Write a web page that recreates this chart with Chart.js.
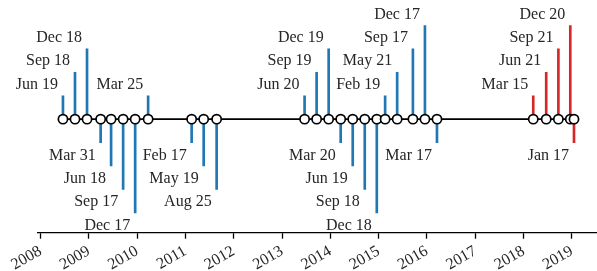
<!DOCTYPE html>
<html>
<head>
<meta charset="utf-8">
<script src="https://cdn.jsdelivr.net/npm/chart.js@4/dist/chart.umd.min.js"></script>
<style>
  html, body { margin: 0; padding: 0; background: #fff; }
  #wrap { width: 597px; height: 271px; }
</style>
</head>
<body>
<div id="wrap"><canvas id="timeline"></canvas></div>
<script>
// release dates, their labels and stem levels (+ above, - below the line)
const releaseDates = [
  '2008-06-19', '2008-09-18', '2008-12-18', '2009-03-31', '2009-06-18', '2009-09-17',
  '2009-12-17', '2010-03-25', '2011-02-17', '2011-05-19', '2011-08-25',
  '2013-06-20', '2013-09-19', '2013-12-19', '2014-03-20', '2014-06-19', '2014-09-18',
  '2014-12-18', '2015-02-19', '2015-05-21', '2015-09-17', '2015-12-17', '2016-03-17',
  '2018-03-15', '2018-06-21', '2018-09-21', '2018-12-20', '2019-01-17'
]
const releaseNames = [
  'Jun 19', 'Sep 18', 'Dec 18', 'Mar 31', 'Jun 18', 'Sep 17',
  'Dec 17', 'Mar 25', 'Feb 17', 'May 19', 'Aug 25',
  'Jun 20', 'Sep 19', 'Dec 19', 'Mar 20', 'Jun 19', 'Sep 18',
  'Dec 18', 'Feb 19', 'May 21', 'Sep 17', 'Dec 17', 'Mar 17',
  'Mar 15', 'Jun 21', 'Sep 21', 'Dec 20', 'Jan 17'
]
const levels = [
  1, 2, 3, -1, -2, -3,
  -4, 1, -1, -2, -3,
  1, 2, 3, -1, -2, -3,
  -4, 1, 2, 3, 4, -1,
  1, 2, 3, 4, -1
]
const years = [2008, 2009, 2010, 2011, 2012, 2013, 2014, 2015, 2016, 2017, 2018, 2019]
const xStart = '2007-12-08'
const xEnd = '2019-07-10'

function dayNum(s) {
  return Date.parse(s + 'T00:00:00Z') / 86400000
}
const stemColor = d => d >= '2018' ? '#d62728' : '#1f77b4'
const font = "'Liberation Serif', 'DejaVu Serif', serif"
const xs = releaseDates.map(dayNum)

const stemLabels = {
  id: 'stemLabels',
  afterDatasetsDraw(chart) {
    const ctx = chart.ctx
    const x = chart.scales.x
    const y = chart.scales.y
    ctx.save()
    ctx.font = '16px ' + font
    ctx.fillStyle = '#262626'
    ctx.textAlign = 'right'
    ctx.textBaseline = 'alphabetic'
    releaseNames.forEach((name, i) => {
      const px = x.getPixelForValue(xs[i])
      const py = y.getPixelForValue(levels[i])
      ctx.fillText(name, px - 5, levels[i] > 0 ? py - 7 : py + 17)
    })
    ctx.restore()
  }
}

const ctx = document.getElementById('timeline').getContext('2d')
const chart = new Chart(ctx, {
  type: 'line',
  data: {
    datasets: [{
      type: 'bar',
      data: xs.map((x, i) => ({ x: x, y: [0, levels[i]] })),
      backgroundColor: releaseDates.map(stemColor),
      barThickness: 2,
      order: 2
    }, {
      type: 'line',
      data: xs.map(x => ({ x: x, y: 0 })),
      borderColor: '#000',
      borderWidth: 1.8,
      pointRadius: 4.6,
      pointBorderWidth: 1.7,
      pointBackgroundColor: '#fff',
      pointBorderColor: '#000',
      order: 1
    }]
  },
  options: {
    responsive: true,
    maintainAspectRatio: false,
    animation: false,
    layout: { autoPadding: false, padding: { left: 37.3, right: 0, top: 0, bottom: 0 } },
    plugins: {
      legend: { display: false },
      tooltip: { enabled: false }
    },
    scales: {
      x: {
        type: 'linear',
        min: dayNum(xStart),
        max: dayNum(xEnd),
        offset: false,
        grid: { drawOnChartArea: false, drawTicks: true, tickLength: 6, tickWidth: 1.3, tickColor: '#000', offset: false },
        border: { display: true, color: '#000', width: 1.3 },
        afterBuildTicks: s => { s.ticks = years.map(y => ({ value: dayNum(y + '-01-01') })) },
        afterFit: s => {
          s.height = 38.3
          s.paddingRight = 0
        },
        ticks: {
          minRotation: 30,
          maxRotation: 30,
          color: '#262626',
          font: { family: font, size: 16 },
          callback: v => String(new Date(v * 86400000).getUTCFullYear())
        }
      },
      y: { display: false, min: -4.85, max: 5.09 }
    }
  },
  plugins: [stemLabels]
})
</script>
</body>
</html>
